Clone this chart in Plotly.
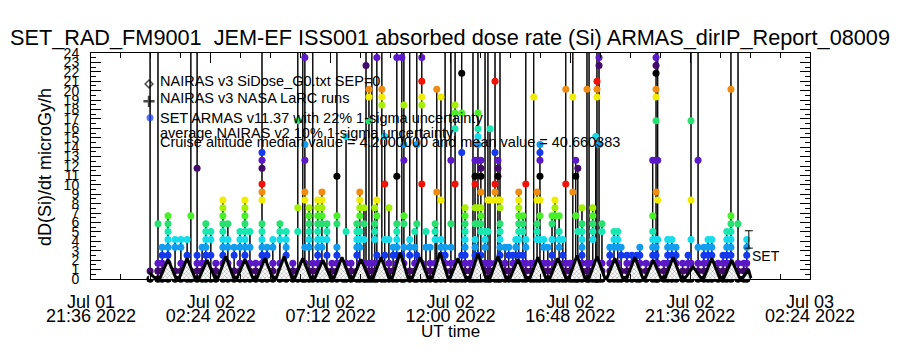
import pandas as pd
import plotly.graph_objects as go

START = pd.Timestamp("2022-07-02 00:00")
ARMAS_DOSE_STEP = 0.84  # microGy/h per quantised ARMAS count level

# ARMAS (SET) samples: column time (minutes after Jul 02 00:00) and the count levels seen in that column
armas_minutes = [
    -2, 17, 27, 41, 58, 72, 87, 96, 111, 123, 132, 144, 156, 173, 185, 200, 214, 226, 238, 252,
    267, 279, 293, 310, 325, 341, 353, 365, 370, 380, 389, 401, 411, 423, 435, 447, 462, 469, 481, 495,
    502, 512, 517, 524, 531, 538, 543, 555, 562, 572, 582, 591, 603, 608, 622, 634, 639, 651, 661, 671,
    683, 687, 697, 707, 721, 731, 738, 747, 755, 767, 774, 779, 786, 793, 803, 810, 815, 827, 834, 839,
    851, 860, 870, 877, 884, 894, 901, 913, 920, 928, 935, 944, 954, 964, 971, 981, 990, 997, 1007, 1014,
    1021, 1026, 1036, 1048, 1053, 1062, 1069, 1072, 1077, 1084, 1103, 1113, 1122, 1130, 1144, 1156, 1168, 1175, 1190, 1206,
    1214, 1218, 1233, 1242, 1252, 1262, 1278, 1291, 1298, 1315, 1329, 1339, 1348, 1363, 1375, 1384, 1394, 1411, 1425, 1432,
]
armas_counts = [
    [0, 500, 1, 0], [0, 1, 2, 7, 500, 1, 0], [0, 1, 2, 3, 4, 0], [0, 1, 2, 3, 4, 5, 6, 7, 8, 0],
    [0, 1, 4, 5, 0], [0, 1, 2, 4, 5, 0], [0, 1, 2, 3, 5, 0], [0, 1, 8, 500, 0],
    [0, 1, 2, 3, 14, 500, 0], [0, 1, 2, 4, 0], [0, 1, 2, 3, 4, 5, 6, 7, 0], [0, 1, 3, 5, 6, 0],
    [0, 1, 2, 0], [0, 1, 2, 3, 4, 5, 6, 7, 8, 9, 10, 0], [0, 1, 2, 4, 5, 7, 0], [0, 1, 3, 4, 0],
    [0, 1, 2, 4, 5, 6, 0], [0, 1, 2, 3, 4, 5, 6, 7, 8, 9, 10, 0], [0, 1, 2, 4, 6, 0], [0, 1, 2, 0],
    [0, 1, 2, 3, 4, 5, 6, 7, 10, 11, 12, 14, 15, 16, 500, 0], [0, 1, 3, 4, 0], [0, 1, 2, 4, 5, 0],
    [0, 1, 2, 5, 6, 7, 0], [0, 1, 3, 4, 5, 6, 0], [0, 1, 2, 0], [0, 1, 6, 9, 20, 500, 0],
    [0, 1, 2, 500, 0], [0, 1, 2, 4, 10, 11, 15, 17, 28, 500, 0], [0, 1, 4, 5, 6, 7, 8, 9, 0],
    [0, 1, 2, 500, 0], [0, 1, 2, 3, 4, 5, 6, 7, 8, 9, 10, 0], [0, 1, 2, 4, 5, 7, 8, 9, 10, 11, 0],
    [0, 1, 3, 5, 6, 7, 0], [0, 1, 2, 0], [0, 1, 2, 3, 4, 7, 8, 13, 500, 0], [0, 1, 0],
    [0, 1, 2, 6, 18, 0], [0, 1, 2, 0], [0, 1, 3, 4, 5, 6, 7, 0],
    [0, 1, 2, 4, 5, 6, 8, 9, 10, 11, 0], [0, 1, 2, 5, 7, 9, 0], [0, 1, 27, 500, 0],
    [0, 1, 2, 20, 23, 24, 0], [0, 1, 2, 500, 0], [0, 1, 5, 6, 7, 9, 0], [0, 1, 2, 3, 8, 10, 28, 500, 0],
    [0, 1, 2, 22, 23, 24, 500, 0], [0, 1, 3, 5, 12, 18, 0], [0, 1, 2, 5, 9, 0], [0, 1, 3, 4, 0],
    [0, 1, 2, 3, 4, 5, 6, 7, 13, 28, 500, 0], [0, 1, 2, 3, 28, 500, 0], [0, 1, 2, 4, 7, 8, 15, 17, 22, 500, 0],
    [0, 1, 3, 4, 5, 500, 0], [0, 1, 2, 4, 6, 0], [0, 1, 2, 3, 7, 17, 500, 0],
    [0, 1, 2, 12, 22, 23, 25, 28, 500, 0], [0, 1, 4, 6, 0], [0, 1, 2, 4, 0],
    [0, 1, 2, 5, 6, 7, 0], [0, 1, 11, 24, 0], [0, 1, 2, 3, 4, 5, 10, 23, 0], [0, 1, 2, 3, 4, 500, 0],
    [0, 1, 2, 4, 7, 15, 500, 0], [0, 1, 2, 12, 19, 21, 22, 500, 0], [0, 1, 2, 0], [0, 1, 3, 16, 21, 26, 500, 0],
    [0, 1, 2, 3, 4, 5, 6, 7, 8, 9, 0], [0, 1, 2, 0], [0, 1, 2, 500, 0], [0, 1, 2, 3, 4, 5, 7, 9, 12, 13, 15, 0],
    [0, 1, 2, 3, 7, 9, 15, 17, 18, 19, 21, 500, 0], [0, 1, 2, 3, 6, 7, 8, 9, 11, 13, 14, 15, 0],
    [0, 1, 2, 4, 5, 6, 500, 0], [0, 1, 2, 6, 10, 500, 0], [0, 1, 2, 10, 19, 0],
    [0, 1, 2, 10, 11, 12, 16, 25, 500, 0], [0, 1, 2, 10, 13, 14, 15, 0],
    [0, 1, 2, 3, 4, 5, 6, 7, 9, 10, 500, 0],
    [0, 1, 2, 4, 0], [0, 1, 3, 4, 0], [0, 1, 2, 3, 0], [0, 1, 2, 4, 5, 0],
    [0, 1, 2, 3, 5, 6, 7, 8, 9, 10, 11, 0], [0, 1, 2, 3, 6, 7, 8, 0], [0, 1, 2, 4, 5, 12, 500, 0],
    [0, 1, 2, 0], [0, 1, 2, 23, 500, 0], [0, 1, 2, 5, 6, 7, 10, 11, 0], [0, 1, 2, 5, 8, 10, 13, 15, 16, 17, 0],
    [0, 1, 2, 4, 5, 0], [0, 1, 2, 4, 0], [0, 1, 3, 5, 7, 8, 0], [0, 1, 2, 8, 9, 10, 0],
    [0, 1, 2, 4, 5, 6, 8, 0], [0, 1, 3, 5, 0], [0, 1, 2, 12, 24, 500, 0], [0, 1, 2, 0],
    [0, 1, 2, 11, 23, 500, 0], [0, 1, 2, 8, 13, 15, 0], [0, 1, 2, 6, 14, 0], [0, 1, 2, 3, 4, 5, 6, 7, 9, 0],
    [0, 1, 2, 24, 500, 0], [0, 1, 2, 500, 0], [0, 1, 2, 5, 6, 7, 8, 9, 0], [0, 1, 2, 18, 0],
    [0, 1, 2, 23, 24, 25, 500, 0], [0, 1, 2, 17, 27, 28, 500, 0], [0, 1, 2, 6, 7, 0], [0, 1, 2, 3, 4, 0],
    [0, 1, 2, 4, 5, 6, 0], [0, 1, 2, 4, 5, 6, 0], [0, 1, 3, 4, 0], [0, 1, 2, 3, 0], [0, 1, 2, 3, 0],
    [0, 1, 2, 3, 0], [0, 1, 2, 3, 4, 0], [0, 1, 2, 0], [0, 1, 2, 3, 4, 5, 6, 8, 15, 0],
    [0, 1, 2, 3, 4, 5, 11, 15, 20, 23, 24, 26, 27, 28, 500, 0], [0, 1, 2, 5, 10, 15, 500, 0], [0, 1, 2, 0],
    [0, 1, 2, 3, 4, 5, 0], [0, 1, 2, 3, 4, 5, 0], [0, 1, 2, 3, 4, 0], [0, 1, 2, 0], [0, 1, 2, 3, 0],
    [0, 1, 2, 5, 10, 20, 500, 0], [0, 1, 2, 4, 15, 500, 0], [0, 1, 2, 3, 4, 0], [0, 1, 2, 3, 4, 5, 0],
    [0, 1, 2, 3, 4, 5, 0], [0, 1, 2, 0], [0, 1, 2, 3, 0], [0, 1, 2, 3, 4, 5, 6, 0],
    [0, 1, 2, 3, 4, 5, 6, 7, 8, 24, 500, 0], [0, 1, 2, 7, 500, 0], [0, 1, 2, 0], [0, 1, 2, 3, 4, 5, 0],
]
assert len(armas_minutes) == len(armas_counts)

# NAIRAS v3 SiDose model (orbit humps): minutes after Jul 02 00:00 and dose rate
nairas_minutes = [
    -5, 10, 22, 41, 60, 68, 87, 106, 116, 135, 154, 161, 180, 199, 207, 226, 245, 255, 274, 293,
    301, 320, 339, 346, 365, 384, 394, 413, 432, 440, 459, 478, 486, 505, 524, 534, 553, 572, 580, 599,
    618, 628, 647, 666, 676, 695, 714, 719, 738, 757, 767, 786, 805, 815, 834, 853, 863, 882, 901, 911,
    930, 949, 959, 978, 997, 1005, 1024, 1043, 1053, 1072, 1091, 1096, 1115, 1134, 1144, 1163, 1182, 1188, 1207, 1226,
    1236, 1255, 1274, 1284, 1303, 1322, 1329, 1348, 1367, 1377, 1396, 1415, 1422, 1436, 1442,
]
nairas_dose = [
    0.7, 0.1, 0.1, 2.1, 0.1, 0.1, 2.2, 0.1, 0.1, 2.0, 0.1, 0.1, 2.4, 0.1, 0.1, 2.1, 0.1, 0.1, 2.2, 0.1,
    0.1, 2.4, 0.1, 0.1, 2.2, 0.1, 0.1, 2.0, 0.1, 0.1, 2.3, 0.1, 0.1, 2.1, 0.1, 0.1, 2.3, 0.1, 0.1, 2.8,
    0.1, 0.1, 2.3, 0.1, 0.1, 2.8, 0.1, 0.1, 2.2, 0.1, 0.1, 2.7, 0.1, 0.1, 2.4, 0.1, 0.1, 2.1, 0.1, 0.1,
    2.3, 0.1, 0.1, 2.2, 0.1, 0.1, 2.5, 0.1, 0.1, 2.4, 0.1, 0.1, 2.2, 0.1, 0.1, 2.3, 0.1, 0.1, 2.0, 0.1,
    0.1, 2.3, 0.1, 0.1, 1.3, 0.1, 0.1, 2.2, 0.1, 0.1, 2.0, 0.1, 0.1, 1.0, 0.1,
]

set_minute = 1437
set_median = 4.2
set_sigma_pct = 22

x_range = ["2022-07-01 21:36", "2022-07-03 02:24"]
x_tick_vals = ["2022-07-01 21:36", "2022-07-02 02:24", "2022-07-02 07:12", "2022-07-02 12:00",
               "2022-07-02 16:48", "2022-07-02 21:36", "2022-07-03 02:24"]
x_tick_day = ["Jul 01", "Jul 02", "Jul 02", "Jul 02", "Jul 02", "Jul 02", "Jul 03"]
x_tick_time = ["21:36 2022", "02:24 2022", "07:12 2022", "12:00 2022", "16:48 2022", "21:36 2022", "02:24 2022"]
y_tick_vals = list(range(0, 25))

legend_lines = [
    "NAIRAS v3 SiDose_G0.txt SEP=0",
    "NAIRAS v3 NASA LaRC runs",
    "SET ARMAS v11.37 with 22% 1-sigma uncertainty",
    "average NAIRAS v2 10% 1-sigma uncertainty",
    "Cruise altitude median value = 4.2000000 and mean value = 40.660383",
]

PALETTE = ["#000000", "#420a6c", "#5a18c8", "#1438f0", "#129cf0", "#14dcea", "#16e8b0",
           "#28e070", "#48f028", "#a4f000", "#f0ec00", "#f08c10", "#f01208"]
FONT = "Liberation Sans, Arial, sans-serif"

xs, ys, cs = [], [], []
for minute, counts in zip(armas_minutes, armas_counts):
    t = START + pd.Timedelta(minutes=minute)
    for c in counts:
        xs.append(t)
        ys.append(c * ARMAS_DOSE_STEP)
        cs.append(PALETTE[c % 13])

fig = go.Figure()
fig.add_trace(go.Scatter(
    x=xs, y=ys, mode="lines+markers",
    line=dict(color="black", width=1),
    marker=dict(size=7, color=cs, line=dict(width=0)),
    cliponaxis=False, hoverinfo="skip",
))
fig.add_trace(go.Scatter(
    x=[START + pd.Timedelta(minutes=m) for m in nairas_minutes], y=nairas_dose,
    mode="lines", line=dict(color="black", width=3),
    fill="tozeroy", fillcolor="white",
    fillpattern=dict(shape="x", size=3, solidity=0.25, fgcolor="black", bgcolor="white"),
    hoverinfo="skip",
))
fig.add_trace(go.Scatter(
    x=[START + pd.Timedelta(minutes=set_minute)], y=[set_median], mode="lines",
    line=dict(color="black", width=1),
    error_y=dict(type="percent", value=set_sigma_pct, width=4, thickness=1, color="black"),
    hoverinfo="skip",
))
# second line of the date tick labels
fig.add_trace(go.Scatter(x=[x_range[0]], y=[0], xaxis="x2", mode="lines", showlegend=False,
                         line=dict(width=0), hoverinfo="skip"))
# legend keys (drawn on a unit overlay axis)
fig.add_trace(go.Scatter(
    x=[0.0807, 0.0807, 0.0821], y=[0.863, 0.786, 0.714], xaxis="x3", yaxis="y3",
    mode="markers",
    marker=dict(symbol=["diamond-open", "cross-thin-open", "circle"], size=[6, 8, 7],
                color=["black", "black", "#1438f0"], line=dict(width=[1.5, 2.5, 0], color=["black", "black", "#1438f0"])),
    hoverinfo="skip",
))

axis_common = dict(showgrid=False, zeroline=False, linecolor="black", showline=True,
                   tickcolor="black", ticks="inside", mirror="ticks")
fig.update_layout(
    width=900, height=350, margin=dict(l=91, r=90, t=53, b=71),
    plot_bgcolor="white", paper_bgcolor="white", showlegend=False,
    font=dict(family=FONT, color="black"),
    title=dict(text="SET_RAD_FM9001  JEM-EF ISS001 absorbed dose rate (Si) ARMAS_dirIP_Report_08009",
               x=0.5, xanchor="center", y=1 - 37 / 350, yanchor="middle", yref="container",
               font=dict(size=21.7, family=FONT, color="black")),
    xaxis=dict(type="date", range=x_range, tickmode="array", tickvals=x_tick_vals, ticktext=x_tick_day,
               ticklen=10, tickfont=dict(size=18), ticklabelstandoff=6,
               minor=dict(ticks="inside", ticklen=5, tickcolor="black", dtick=72 * 60 * 1000, tick0=x_range[0]),
               **axis_common),
    xaxis2=dict(type="date", range=x_range, overlaying="x", anchor="y", side="bottom",
                tickmode="array", tickvals=x_tick_vals, ticktext=x_tick_time, ticks="",
                tickfont=dict(size=18), ticklabelstandoff=24, showline=False, showgrid=False, zeroline=False),
    yaxis=dict(range=[0, 24], tickmode="array", tickvals=y_tick_vals, ticklen=10,
               tickfont=dict(size=14), ticklabelstandoff=8,
               minor=dict(ticks="inside", ticklen=5, tickcolor="black", dtick=0.5),
               **axis_common),
    xaxis3=dict(range=[0, 1], overlaying="x", visible=False),
    yaxis3=dict(range=[0, 1], overlaying="y", visible=False, anchor="x3"),
)

ann = []
for txt, yp in zip(legend_lines, [0.878, 0.800, 0.712, 0.646, 0.606]):
    ann.append(dict(text=txt, x=0.0932, y=yp, xref="paper", yref="paper", xanchor="left",
                    yanchor="middle", showarrow=False, font=dict(size=14.5)))
ann.append(dict(text="UT time", x=0.5, y=(279 - 331) / 226, xref="paper", yref="paper",
                xanchor="center", yanchor="middle", showarrow=False, font=dict(size=17)))
ann.append(dict(text="dD(Si)/dt microGy/h", x=(45 - 91) / 719, y=0.4956, xref="paper", yref="paper",
                xanchor="center", yanchor="middle", textangle=-90, showarrow=False, font=dict(size=18)))
ann.append(dict(text="SET", x=START + pd.Timedelta(minutes=set_minute), y=2.45, xref="x", yref="y",
                xanchor="left", yanchor="middle", xshift=1, showarrow=False, font=dict(size=14)))
fig.update_layout(annotations=ann)

fig.write_html("out.html")
